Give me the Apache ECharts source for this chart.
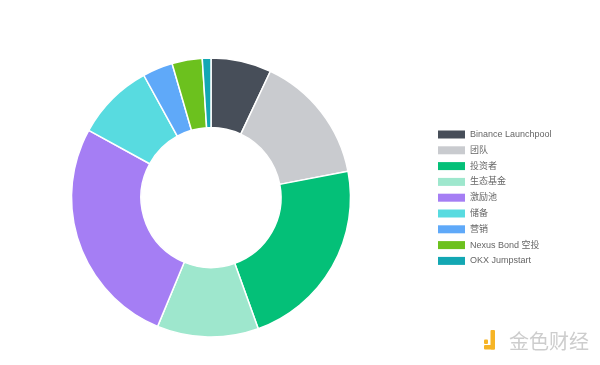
<!DOCTYPE html>
<html>
<head>
<meta charset="utf-8">
<script src="https://cdn.jsdelivr.net/npm/echarts@6/dist/echarts.min.js"></script>
<style>html,body{margin:0;padding:0;background:#fff}#c{width:600px;height:365px}</style>
</head>
<body>
<div id="c"></div>
<script>
const categories = ['Binance Launchpool','团队','投资者','生态基金','激励池','储备','营销','Nexus Bond 空投','OKX Jumpstart'];
const values = [7, 15, 22.5, 11.75, 26.75, 9, 3.5, 3.5, 1];
const colors = ['#474e59','#c9cbcf','#04c078','#9ee7cd','#a57ef4','#58dbe0','#5fa9f9','#6cc11e','#13a7b3'];

const chart = echarts.init(document.getElementById('c'), null, {renderer:'canvas'});
chart.setOption({
  animation: false,
  backgroundColor: '#fff',
  color: colors,
  legend: {
    orient: 'vertical',
    left: 438,
    top: 130,
    padding: 0,
    itemWidth: 27,
    itemHeight: 8,
    itemGap: 6.8,
    icon: 'rect',
    itemStyle: { borderWidth: 0 },
    textStyle: { fontSize: 9, color: '#666', lineHeight: 9, fontFamily: 'Liberation Sans, Noto Sans CJK SC, sans-serif' },
    data: categories
  },
  series: [{
    type: 'pie',
    center: [211, 197.5],
    radius: [70, 139.5],
    startAngle: 90,
    clockwise: true,
    label: { show: false },
    labelLine: { show: false },
    emphasis: { disabled: true },
    itemStyle: { borderColor: '#fff', borderWidth: 1.5 },
    data: categories.map((n, i) => ({ name: n, value: values[i] }))
  }],
  graphic: [
    { type: 'rect', shape: { x: 484, y: 339.5, width: 4, height: 4.5, r: 1 }, style: { fill: '#f6b425' } },
    { type: 'rect', shape: { x: 490.5, y: 330, width: 4.5, height: 19.5, r: 1 }, style: { fill: '#f6b425' } },
    { type: 'rect', shape: { x: 484, y: 345, width: 11, height: 4.5, r: 1 }, style: { fill: '#f6b425' } },
    { type: 'text', left: 509, top: 331, style: { text: '金色财经', fontSize: 20, fill: '#cdcdcd', fontFamily: 'Noto Sans CJK SC, sans-serif' } }
  ]
});
</script>
</body>
</html>
